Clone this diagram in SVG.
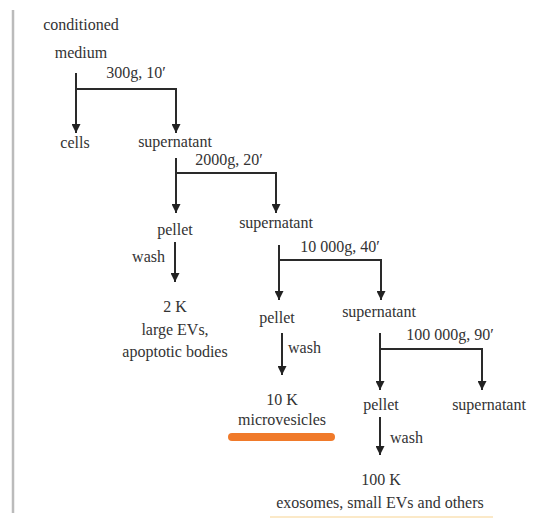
<svg xmlns="http://www.w3.org/2000/svg" width="541" height="519" viewBox="0 0 541 519">
<defs>
<marker id="ah" markerUnits="userSpaceOnUse" markerWidth="9" markerHeight="9" refX="9" refY="4.5" orient="auto" viewBox="0 0 9 9">
<path d="M0,0 L9,4.5 L0,9 Z" fill="#222"/>
</marker>
</defs>
<style>
text{font-family:'Liberation Serif','DejaVu Serif',serif;font-size:16px;fill:#333}
.m{text-anchor:middle}
.c path{fill:none;stroke:#2a2a2a;stroke-width:2}
.c .a{marker-end:url(#ah)}
</style>
<rect width="541" height="519" fill="#fff"/>
<line x1="13" y1="10" x2="13" y2="513" stroke="#bbbbbb" stroke-width="2.5"/>
<g class="c" id="connectors">
<path class="a" d="M76,73 V133"/>
<path class="a" d="M76,89 H176 V133"/>
<path class="a" d="M176,158 V213"/>
<path class="a" d="M176,173 H276 V213"/>
<path class="a" d="M175,242 V282"/>
<path class="a" d="M279,245 V300"/>
<path class="a" d="M279,260 H381 V300"/>
<path class="a" d="M282,333 V375"/>
<path class="a" d="M380,333 V390"/>
<path class="a" d="M380,349 H482 V390"/>
<path class="a" d="M380,417 V455"/>
</g>
<g id="medium"><text class="m" x="81" y="30">conditioned</text><text class="m" x="81" y="58">medium</text></g>
<g id="spin1"><text class="m" x="136" y="78">300g, 10′</text></g>
<g id="cells"><text class="m" x="75" y="148">cells</text></g>
<g id="sup1"><text class="m" x="175" y="147">supernatant</text></g>
<g id="spin2"><text class="m" x="229" y="165">2000g, 20′</text></g>
<g id="pellet1"><text class="m" x="175" y="235">pellet</text></g>
<g id="sup2"><text class="m" x="276" y="228">supernatant</text></g>
<g id="wash1"><text x="165" y="262" text-anchor="end">wash</text></g>
<g id="k2"><text class="m" x="175" y="312">2 K</text><text class="m" x="175" y="335">large EVs,</text><text class="m" x="175" y="357">apoptotic bodies</text></g>
<g id="spin3"><text class="m" x="340" y="252">10 000g, 40′</text></g>
<g id="pellet2"><text class="m" x="277" y="323">pellet</text></g>
<g id="sup3"><text class="m" x="379" y="317">supernatant</text></g>
<g id="wash2"><text x="288" y="353">wash</text></g>
<g id="k10"><line x1="232" y1="437" x2="331" y2="437" stroke="#f07a2a" stroke-width="8" stroke-linecap="round"/><text class="m" x="282" y="405">10 K</text><text class="m" x="282" y="425">microvesicles</text></g>
<g id="spin4"><text class="m" x="450" y="340">100 000g, 90′</text></g>
<g id="pellet3"><text class="m" x="381" y="410">pellet</text></g>
<g id="sup4"><text class="m" x="489" y="410">supernatant</text></g>
<g id="wash3"><text x="390" y="443">wash</text></g>
<g id="k100"><line x1="270" y1="517" x2="493" y2="517" stroke="#fbe9c8" stroke-width="2"/><text class="m" x="381" y="485">100 K</text><text class="m" x="380" y="508">exosomes, small EVs and others</text></g>
</svg>
